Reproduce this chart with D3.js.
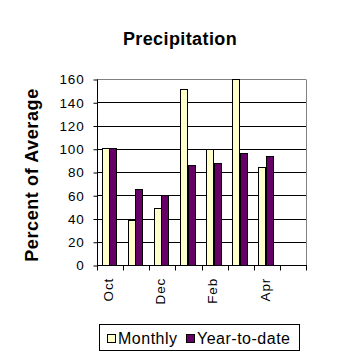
<!DOCTYPE html>
<html><head><meta charset="utf-8">
<script src="https://cdn.jsdelivr.net/npm/d3@7"></script>
<style>
html,body{margin:0;padding:0;background:#fff;}
svg{display:block;font-family:"Liberation Sans",Arial,sans-serif;}
</style></head>
<body>
<svg id="c" width="358" height="358"></svg>
<script>
const categories = ["Oct","Nov","Dec","Jan","Feb","Mar","Apr","May"];
const shownLabels = ["Oct","Dec","Feb","Apr"];
const seriesNames = ["Monthly","Year-to-date"];
const monthly = [101, 39, 49, 151, 100, 160, 84, null];
const yearToDate = [101, 65, 60, 86, 88, 96, 94, null];
const yTicks = [0,20,40,60,80,100,120,140,160];
const colors = ["#FFFFCC","#660066"];

const svg = d3.select("#c");
const L = 97, R = 306, T = 79, B = 265;
const x = d3.scaleBand().domain(categories).range([L, R]).padding(0);
const bw = x.bandwidth();
const x1 = d3.scaleBand().domain(seriesNames).range([bw*0.18, bw*0.75]).padding(0);
const y = d3.scaleLinear().domain([0,160]).range([B, T]);

// gridlines
svg.append("g").selectAll("line").data(yTicks.filter(d=>d>0)).join("line")
  .attr("x1", L).attr("x2", R)
  .attr("y1", d=>Math.round(y(d))+0.5).attr("y2", d=>Math.round(y(d))+0.5)
  .attr("stroke", d=> d===160 ? "#808080" : "#000").attr("stroke-width",1);
// right border
svg.append("line").attr("x1", R+0.5).attr("x2", R+0.5).attr("y1", T+0.5).attr("y2", B+0.5)
  .attr("stroke","#808080");

// bars
const data = categories.map((c,i)=>({c, vals:[monthly[i], yearToDate[i]]}));
const g = svg.append("g");
data.forEach(d=>{
  d.vals.forEach((v,j)=>{
    if(v==null) return;
    const x0 = Math.round(x(d.c) + x1(seriesNames[j]));
    const w = Math.round(x1.bandwidth());
    const yt = Math.round(y(v));
    g.append("rect").attr("x", x0+0.5).attr("y", yt+0.5)
      .attr("width", w).attr("height", B - yt)
      .attr("fill", colors[j]).attr("stroke","#000").attr("stroke-width",1);
  });
});

// y axis
const yAxis = d3.axisLeft(y).tickValues(yTicks).tickSize(4).tickPadding(9);
const ya = svg.append("g").attr("transform",`translate(${L+0.5},0.5)`).call(yAxis);
ya.select(".domain").attr("d", `M0,${T}V${B}`).attr("stroke","#000");
ya.selectAll(".tick line").attr("stroke","#000");
ya.selectAll("text").attr("font-size","13.5px").attr("fill","#000")
  .attr("font-family","'Liberation Sans',Arial,sans-serif").style("letter-spacing","0.8px");

// x axis
const xa = svg.append("g").attr("transform",`translate(0,${B+0.5})`);
xa.append("line").attr("x1",L).attr("x2",R+1).attr("y1",0).attr("y2",0).attr("stroke","#000");
const bounds = categories.map(c=>x(c)).concat([R]);
xa.selectAll(".tk").data(bounds).join("line").attr("class","tk")
  .attr("x1",d=>Math.round(d)+0.5).attr("x2",d=>Math.round(d)+0.5)
  .attr("y1",0).attr("y2",5).attr("stroke","#000");
xa.selectAll(".lbl").data(shownLabels).join("text").attr("class","lbl")
  .attr("transform", d=>`translate(${x(d)+bw/2-2},${277.5-B}) rotate(-90)`)
  .attr("text-anchor","end").attr("dy","0.36em")
  .attr("font-size","13.5px").style("letter-spacing","0.8px").text(d=>d);

// title
svg.append("text").attr("x",180).attr("y",45).attr("text-anchor","middle")
  .attr("font-size","18px").attr("font-weight","bold").style("letter-spacing","0.4px")
  .text("Precipitation");
svg.append("text").attr("transform","translate(37.5,175) rotate(-90)")
  .attr("text-anchor","middle").attr("font-size","18px").attr("font-weight","bold")
  .style("letter-spacing","0.6px").text("Percent of Average");

// legend
const lg = svg.append("g");
lg.append("rect").attr("x",99.5).attr("y",324.5).attr("width",200).attr("height",26)
  .attr("fill","#fff").attr("stroke","#000");
const legX = [107, 186];
seriesNames.forEach((s,j)=>{
  lg.append("rect").attr("x",legX[j]+0.5).attr("y",334.5).attr("width",8).attr("height",8)
    .attr("fill",colors[j]).attr("stroke","#000");
  lg.append("text").attr("x",legX[j]+11).attr("y",344).attr("font-size","16px")
    .style("letter-spacing","0.5px").text(s);
});
</script>
</body></html>
